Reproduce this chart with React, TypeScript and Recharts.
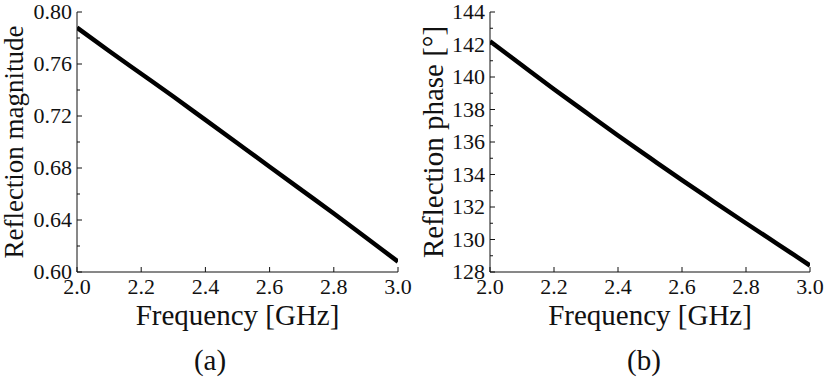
import { LineChart, Line, XAxis, YAxis } from 'recharts'

const freq = [2.0, 2.1, 2.2, 2.3, 2.4, 2.5, 2.6, 2.7, 2.8, 2.9, 3.0]
const magnitude = [0.788, 0.770, 0.7525, 0.735, 0.717, 0.699, 0.681, 0.663, 0.645, 0.6265, 0.608]
const phase = [142.2, 140.72, 139.25, 137.82, 136.4, 135.02, 133.65, 132.32, 131.0, 129.7, 128.4]

const freqTicks = [2.0, 2.2, 2.4, 2.6, 2.8, 3.0]
const magTicks = [0.6, 0.62, 0.64, 0.66, 0.68, 0.7, 0.72, 0.74, 0.76, 0.78, 0.8]
const phaseTicks = [128, 129, 130, 131, 132, 133, 134, 135, 136, 137, 138, 139, 140, 141, 142, 143, 144]

const FONT = '"Liberation Serif", "Times New Roman", serif'
const INK = '#111'

const magData = freq.map((f, i) => ({ f, v: magnitude[i] }))
const phaseData = freq.map((f, i) => ({ f, v: phase[i] }))

const xTick = (showLabel: boolean, dir: number) => (p: any) => (
  <g>
    <line x1={p.x} x2={p.x} y1={p.y} y2={p.y + dir * 5} stroke={INK} strokeWidth={1} />
    {showLabel && (
      <text x={p.x} y={p.y + 22} textAnchor="middle" fontSize={22} fontFamily={FONT} fill={INK}>
        {Number(p.payload.value).toFixed(1)}
      </text>
    )}
  </g>
)

const yTick =
  (showLabel: boolean, dir: number, isMajor: (v: number) => boolean, fmt: (v: number) => string) =>
  (p: any) => {
    const major = isMajor(p.payload.value)
    return (
      <g>
        <line x1={p.x} x2={p.x + dir * (major ? 5 : 3)} y1={p.y} y2={p.y} stroke={INK} strokeWidth={1} />
        {showLabel && major && (
          <text x={p.x - 5} y={p.y + 7} textAnchor="end" fontSize={22} fontFamily={FONT} fill={INK}>
            {fmt(p.payload.value)}
          </text>
        )}
      </g>
    )
  }

type PanelProps = {
  left: number
  width: number
  yWidth: number
  marginRight: number
  data: { f: number; v: number }[]
  yTicks: number[]
  yDomain: [number, number]
  isMajor: (v: number) => boolean
  fmt: (v: number) => string
  yTitle: string
  yTitleX: number
  yTitleSize: number
  caption: string
  captionX: number
}

function Panel(props: PanelProps) {
  const { left, width, yWidth, marginRight, data, yTicks, yDomain, isMajor, fmt } = props

  const xTitle = (lp: any) => {
    const vb = lp.viewBox || { x: yWidth, y: 272, width: width - yWidth - marginRight }
    const cx = vb.x + vb.width / 2
    return (
      <g>
        <text x={cx} y={vb.y + 53} textAnchor="middle" fontSize={29} fontFamily={FONT} fill={INK}>
          Frequency [GHz]
        </text>
        <text x={props.captionX} y={370} textAnchor="middle" fontSize={29} fontFamily={FONT} fill={INK}>
          {props.caption}
        </text>
      </g>
    )
  }

  const yTitle = (lp: any) => {
    const vb = lp.viewBox || { y: 12, height: 260 }
    const cy = vb.y + vb.height / 2
    const x = props.yTitleX
    return (
      <text
        x={x}
        y={cy}
        transform={`rotate(-90, ${x}, ${cy})`}
        textAnchor="middle"
        fontSize={props.yTitleSize}
        fontFamily={FONT}
        fill={INK}
      >
        {props.yTitle}
      </text>
    )
  }

  return (
    <div style={{ position: 'absolute', left, top: 0, width, height: 386 }}>
      <LineChart width={width} height={386} data={data} margin={{ top: 12, right: marginRight, bottom: 0, left: 0 }}>
        <XAxis
          xAxisId="b"
          type="number"
          dataKey="f"
          domain={[2, 3]}
          ticks={freqTicks}
          interval={0}
          allowDataOverflow
          height={114}
          tickSize={0}
          tickMargin={0}
          tickLine={false}
          axisLine={{ stroke: INK, strokeWidth: 1 }}
          tick={xTick(true, -1)}
          label={xTitle}
        />
        <XAxis
          xAxisId="t"
          orientation="top"
          type="number"
          dataKey="f"
          domain={[2, 3]}
          ticks={freqTicks}
          interval={0}
          allowDataOverflow
          height={0}
          tickSize={0}
          tickMargin={0}
          tickLine={false}
          axisLine={{ stroke: INK, strokeWidth: 1 }}
          tick={xTick(false, 1)}
        />
        <YAxis
          yAxisId="l"
          type="number"
          domain={yDomain}
          ticks={yTicks}
          interval={0}
          allowDataOverflow
          width={yWidth}
          tickSize={0}
          tickMargin={0}
          tickLine={false}
          axisLine={{ stroke: INK, strokeWidth: 1 }}
          tick={yTick(true, 1, isMajor, fmt)}
          label={yTitle}
        />
        <YAxis
          yAxisId="r"
          orientation="right"
          type="number"
          domain={yDomain}
          ticks={yTicks}
          interval={0}
          allowDataOverflow
          width={0}
          tickSize={0}
          tickMargin={0}
          tickLine={false}
          axisLine={{ stroke: INK, strokeWidth: 1 }}
          tick={yTick(false, -1, isMajor, fmt)}
        />
        <Line
          xAxisId="b"
          yAxisId="l"
          type="monotone"
          dataKey="v"
          stroke="#000"
          strokeWidth={4.5}
          dot={false}
          activeDot={false}
          isAnimationActive={false}
        />
      </LineChart>
    </div>
  )
}

export default function App() {
  return (
    <div style={{ position: 'absolute', left: 0, top: 0, width: 827, height: 386, background: '#fff' }}>
      <Panel
        left={0}
        width={420}
        yWidth={77}
        marginRight={22}
        data={magData}
        yTicks={magTicks}
        yDomain={[0.6, 0.8]}
        isMajor={(v) => Math.round(v * 100) % 4 === 0}
        fmt={(v) => v.toFixed(2)}
        yTitle="Reflection magnitude"
        yTitleX={23}
        yTitleSize={27}
        caption="(a)"
        captionX={210}
      />
      <Panel
        left={410}
        width={417}
        yWidth={80}
        marginRight={17}
        data={phaseData}
        yTicks={phaseTicks}
        yDomain={[128, 144]}
        isMajor={(v) => Math.round(v) % 2 === 0}
        fmt={(v) => String(Math.round(v))}
        yTitle="Reflection phase [°]"
        yTitleX={33}
        yTitleSize={29}
        caption="(b)"
        captionX={234}
      />
    </div>
  )
}
